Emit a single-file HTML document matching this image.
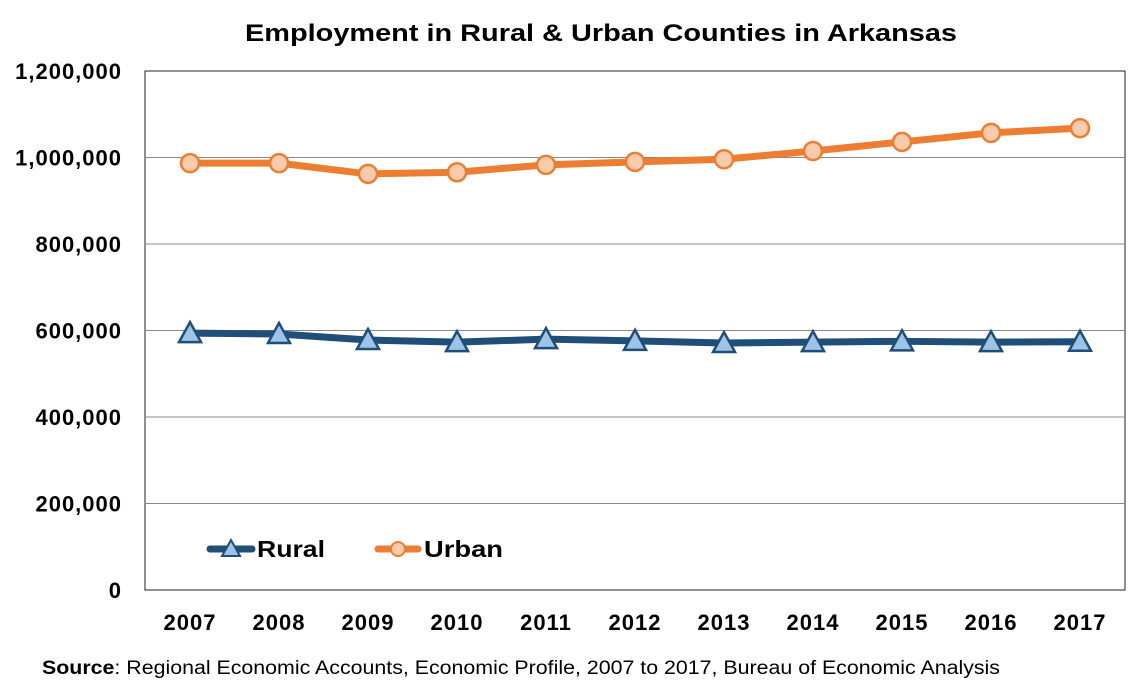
<!DOCTYPE html>
<html><head><meta charset="utf-8"><style>
body{margin:0;background:#fff;font-family:"Liberation Sans",sans-serif;}
svg text{font-family:"Liberation Sans",sans-serif;}
</style></head><body>
<svg width="1144" height="692" viewBox="0 0 1144 692">
<text x="245" y="41" textLength="712" lengthAdjust="spacingAndGlyphs" font-size="24" font-weight="bold" fill="#000">Employment in Rural &amp; Urban Counties in Arkansas</text>
<rect x="145" y="71" width="980" height="519" fill="none" stroke="#222" stroke-width="1"/>
<g id="grid"></g><g id="yticks"></g><g id="xticks"></g><g id="series"></g>
<g>
<g>
<line x1="210" y1="549" x2="252" y2="549" stroke="#1f4e79" stroke-width="7" stroke-linecap="round"/>
<polygon points="231,540 240,556 222,556" fill="#9dc3e6" stroke="#1f4e79" stroke-width="2"/>
<text x="257" y="557" font-size="23" font-weight="bold" textLength="68" lengthAdjust="spacingAndGlyphs">Rural</text></g>
<g>
<line x1="378" y1="549" x2="418" y2="549" stroke="#ed7d31" stroke-width="7" stroke-linecap="round"/>
<circle cx="398" cy="549" r="7" fill="#f8cbad" stroke="#ed7d31" stroke-width="2"/>
<text x="424" y="557" font-size="23" font-weight="bold" textLength="79" lengthAdjust="spacingAndGlyphs">Urban</text></g>
</g>
<text x="42" y="674" font-size="19" textLength="958" lengthAdjust="spacingAndGlyphs"><tspan font-weight="bold">Source</tspan>: Regional Economic Accounts, Economic Profile, 2007 to 2017, Bureau of Economic Analysis</text>
</svg>
<script>
const categories=["2007","2008","2009","2010","2011","2012","2013","2014","2015","2016","2017"];
const ruralValues=[594000,592000,578000,573000,580000,576000,571000,573000,575000,573000,574000];
const urbanValues=[987000,987000,962000,966000,983000,990000,996000,1015000,1036000,1057000,1068000];
const yTicks=[0,200000,400000,600000,800000,1000000,1200000];
const NS="http://www.w3.org/2000/svg";
const x0=190,x1=1080,yb=590,yt=71,ymax=1200000;
const xs=i=>x0+i*(x1-x0)/(categories.length-1);
const ys=v=>yb-v/ymax*(yb-yt);
function mk(t,a,p){const e=document.createElementNS(NS,t);for(const k in a)e.setAttribute(k,a[k]);p.appendChild(e);return e;}
const grid=document.getElementById('grid'),yt_=document.getElementById('yticks'),xt=document.getElementById('xticks'),ser=document.getElementById('series');
yTicks.forEach(v=>{
 if(v>0&&v<ymax){const l=mk('line',{x1:145,x2:1125,y1:ys(v),y2:ys(v),stroke:'#888','stroke-width':1},grid);
 
 }
 const t=mk('text',{x:122,y:ys(v)+8,'text-anchor':'end','font-size':22,'font-weight':'bold','letter-spacing':1},yt_);
 t.textContent=v.toLocaleString('en-US');
 
 
});
categories.forEach((c,i)=>{
 const t=mk('text',{x:xs(i),y:630,'text-anchor':'middle','font-size':22,'font-weight':'bold','letter-spacing':1},xt);
 t.textContent=c;
 
 
});
function line(vals,color,name){
 const p=mk('polyline',{points:vals.map((v,i)=>xs(i)+','+ys(v)).join(' '),fill:'none',stroke:color,'stroke-width':7,'stroke-linejoin':'round','stroke-linecap':'round'},ser);
 
 
}
line(ruralValues,'#1f4e79','rural');
line(urbanValues,'#ed7d31','urban');
ruralValues.forEach((v,i)=>{
 const x=xs(i),y=ys(v);
 const m=mk('polygon',{points:`${x},${y-11} ${x+11},${y+9} ${x-11},${y+9}`,fill:'#9dc3e6',stroke:'#1f4e79','stroke-width':2.5},ser);
 
 
});
urbanValues.forEach((v,i)=>{
 const m=mk('circle',{cx:xs(i),cy:ys(v),r:9,fill:'#f8cbad',stroke:'#ed7d31','stroke-width':2.5},ser);
 
 
});
</script>
</body></html>
